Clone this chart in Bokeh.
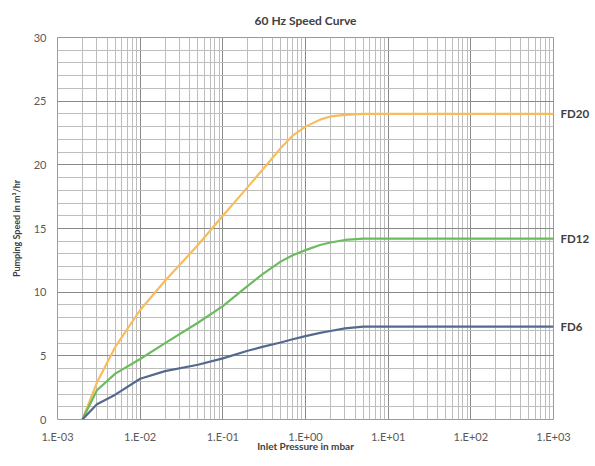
from bokeh.plotting import figure
from bokeh.models import FixedTicker, CustomJSTickFormatter, Range1d, LinearAxis
from bokeh.embed import file_html
from bokeh.resources import INLINE

pressure = [2e-3, 3e-3, 5e-3, 1e-2, 2e-2, 5e-2, 0.1, 0.2, 0.3, 0.5, 0.7, 1, 1.5, 2, 3, 5, 10, 100, 1000]
fd20 = [0, 2.9, 5.7, 8.6, 10.9, 13.7, 16.0, 18.25, 19.6, 21.3, 22.3, 23.0, 23.55, 23.8, 23.93, 24, 24, 24, 24]
fd12 = [0, 2.3, 3.6, 4.75, 6.0, 7.6, 8.9, 10.5, 11.4, 12.4, 12.9, 13.3, 13.7, 13.9, 14.1, 14.2, 14.2, 14.2, 14.2]
fd6 = [0, 1.2, 1.95, 3.2, 3.8, 4.3, 4.8, 5.4, 5.7, 6.05, 6.3, 6.55, 6.8, 6.95, 7.15, 7.3, 7.3, 7.3, 7.3]
series_names = ["FD20", "FD12", "FD6"]
series_colors = ["#F7BD5C", "#6CBB5E", "#55698F"]
x_decades = [1e-3, 1e-2, 1e-1, 1e0, 1e1, 1e2, 1e3]
y_major = [0, 5, 10, 15, 20, 25, 30]

FONT = "Lato"

p = figure(width=595, height=466, frame_width=496, frame_height=382,
           x_axis_type="log",
           x_range=Range1d(1e-3, 1e3), y_range=Range1d(0, 30),
           output_backend="svg", toolbar_location=None,
           min_border_left=57, min_border_right=42, min_border_top=37, min_border_bottom=47,
           title="60 Hz Speed Curve")

p.title.align = "center"
p.title.text_font = FONT
p.title.text_font_size = "12px"
p.title.text_font_style = "bold"
p.title.text_color = "#404040"
p.title.standoff = 19

minor_x = [m * d for d in x_decades[:-1] for m in range(2, 10)]
p.xaxis.ticker = FixedTicker(ticks=x_decades, minor_ticks=minor_x)
p.yaxis.ticker = FixedTicker(ticks=y_major, minor_ticks=[v for v in range(1, 30) if v % 5])
p.xaxis.formatter = CustomJSTickFormatter(code="""
const e = Math.round(Math.log10(tick));
const s = e < 0 ? "-" : "+";
const a = Math.abs(e);
return "1.E" + s + (a < 10 ? "0" : "") + a;
""")

# series names shown at the right end of each curve via a right-hand axis
end_vals = [s[-1] for s in (fd20, fd12, fd6)]
name_axis = LinearAxis(
    ticker=FixedTicker(ticks=sorted(end_vals)),
    formatter=CustomJSTickFormatter(args=dict(vals=end_vals, names=series_names), code="""
for (let i = 0; i < vals.length; i++) {
  if (Math.abs(vals[i] - tick) < 1e-6) return names[i];
}
return "";
"""))
p.add_layout(name_axis, "right")

for ax in (p.xaxis[0], p.yaxis[0], name_axis):
    ax.axis_line_color = None
    ax.major_tick_line_color = None
    ax.minor_tick_line_color = None
    ax.major_tick_out = 0
    ax.minor_tick_out = 0
    ax.major_label_text_font = FONT
    ax.major_label_text_font_size = "11px"
    ax.major_label_text_color = "#595959"
    ax.axis_label_text_font = FONT
    ax.axis_label_text_font_style = "bold"
    ax.axis_label_text_color = "#404040"

name_axis.major_label_text_font_style = "bold"
name_axis.major_label_text_font_size = "11.5px"
name_axis.major_label_text_color = "#404040"
name_axis.major_label_standoff = 7

p.xaxis[0].major_label_standoff = 10
p.yaxis[0].major_label_standoff = 11
p.xaxis[0].axis_label = "Inlet Pressure in mbar"
p.xaxis[0].axis_label_text_font_size = "10px"
p.xaxis[0].axis_label_standoff = -6
p.yaxis[0].axis_label = "Pumping Speed in m³/hr"
p.yaxis[0].axis_label_text_font_size = "9px"
p.yaxis[0].axis_label_standoff = 9

for g in (p.xgrid, p.ygrid):
    g.grid_line_color = "#8a8a8a"
    g.grid_line_width = 1
    g.minor_grid_line_color = "#bdbdbd"
    g.minor_grid_line_width = 1

p.outline_line_color = "#9a9a9a"
p.background_fill_color = "white"
p.border_fill_color = "white"

for ys, col in zip([fd20, fd12, fd6], series_colors):
    p.line(pressure, ys, line_color=col, line_width=2.2)

open("out.html", "w").write(file_html(p, INLINE))
